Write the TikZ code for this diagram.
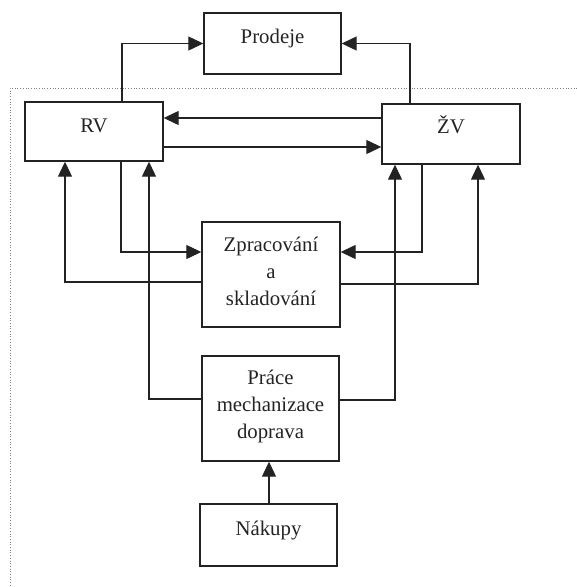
\documentclass[tikz,border=0pt]{standalone}
\usepackage{fontspec}
\setmainfont{Liberation Serif}
\usetikzlibrary{arrows.meta}
\definecolor{ink}{RGB}{35,35,35}
\begin{document}
\begin{tikzpicture}[x=1pt,y=-1pt,
  box/.style={draw=ink,line width=1.4pt,inner sep=0pt},
  txt/.style={text=ink,font=\fontsize{20.8}{27}\selectfont,align=center,inner sep=0pt},
  arr/.style={draw=ink,line width=1.2pt,-{Triangle[length=15pt,width=14pt]}},
  frame/.style={draw=gray,dotted,line width=0.7pt}]
\useasboundingbox (0,0) rectangle (577,587);

% dotted frame of the enterprise
\draw[frame] (577,88) -- (10,88) -- (10,587);

% boxes
\node[box,minimum width=137pt,minimum height=61pt] (p)  at (272.5,43.5) {};
\node[box,minimum width=138pt,minimum height=59pt] (rv) at (94,131.5) {};
\node[box,minimum width=138pt,minimum height=60pt] (zv) at (451,134) {};
\node[box,minimum width=138pt,minimum height=105pt] (zp) at (271,274.5) {};
\node[box,minimum width=137pt,minimum height=105pt] (pr) at (270.5,408.5) {};
\node[box,minimum width=137pt,minimum height=62pt] (n)  at (268.5,535) {};

% labels
\node[txt,anchor=base] (tp)  at (272.5,43) {Prodeje};
\node[txt,anchor=base] (trv) at (94,132) {RV};
\node[txt,anchor=base] (tzv) at (451,133) {ŽV};
\node[txt] (tzp) at (271,271) {Zpracování\\a\\skladování};
\node[txt] (tpr) at (270.5,406) {Práce\\mechanizace\\doprava};
\node[txt,anchor=base] (tn)  at (268.5,535) {Nákupy};

% flows
\draw[arr] (122,0 |- rv.north) |- (p.west);
\draw[arr] (410,0 |- zv.north) |- (p.east);
\draw[arr] (zv.west |- 0,118) -- (rv.east |- 0,118);
\draw[arr] (rv.east |- 0,147) -- (zv.west |- 0,147);
\draw[arr] (121,0 |- rv.south) |- (zp.west |- 0,252);
\draw[arr] (422,0 |- zv.south) |- (zp.east |- 0,252);
\draw[arr] (zp.west |- 0,282) -| (65,0 |- rv.south);
\draw[arr] (zp.east |- 0,284) -| (478,0 |- zv.south);
\draw[arr] (pr.west |- 0,399) -| (149,0 |- rv.south);
\draw[arr] (pr.east |- 0,400) -| (395,0 |- zv.south);
\draw[arr] (269,0 |- n.north) -- (269,0 |- pr.south);
\end{tikzpicture}
\end{document}
